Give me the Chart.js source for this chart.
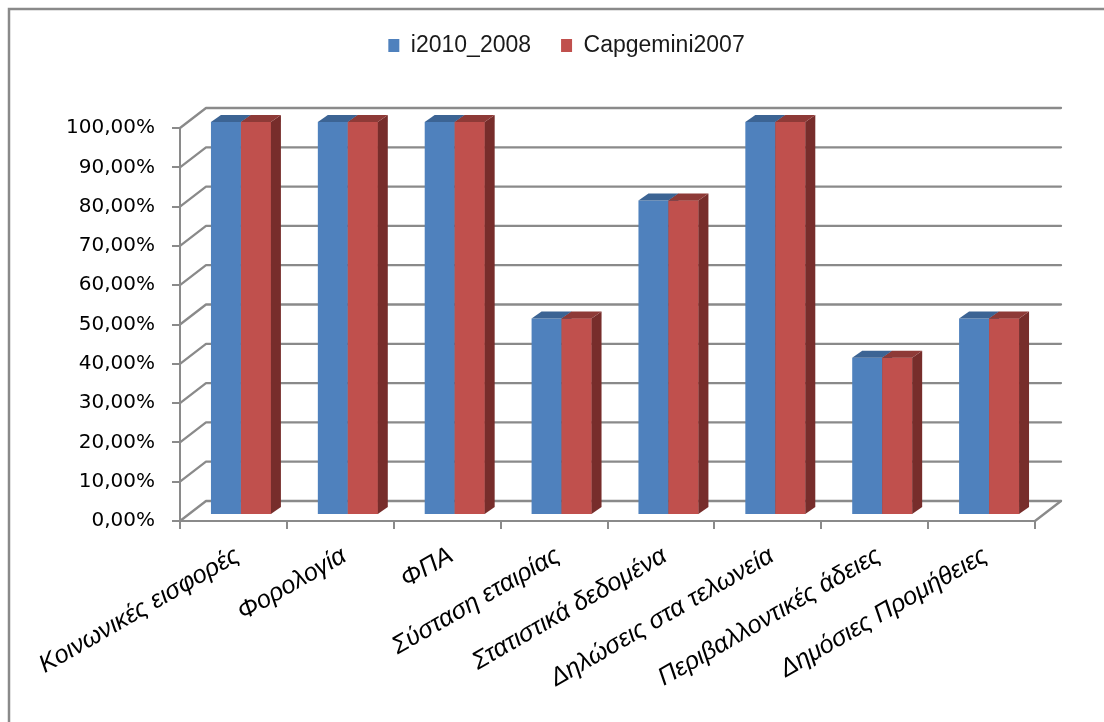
<!DOCTYPE html>
<html>
<head>
<meta charset="utf-8">
<script src="https://cdn.jsdelivr.net/npm/chart.js@4.4.1/dist/chart.umd.min.js"></script>
<style>
  html, body { margin: 0; padding: 0; background: #ffffff; }
  #wrap { width: 1104px; height: 722px; position: relative; }
</style>
</head>
<body>
<div id="wrap"><canvas id="chart" width="1104" height="722"></canvas></div>
<script>
// Categories (Greek e-government services) and the two survey series
const categories = [
  'Κοινωνικές εισφορές',
  'Φορολογία',
  'ΦΠΑ',
  'Σύσταση εταιρίας',
  'Στατιστικά δεδομένα',
  'Δηλώσεις στα τελωνεία',
  'Περιβαλλοντικές άδειες',
  'Δημόσιες Προμήθειες'
];
const seriesNames = ['i2010_2008', 'Capgemini2007'];
const i2010_2008 = [1.00, 1.00, 1.00, 0.50, 0.80, 1.00, 0.40, 0.50];
const capgemini2007 = [1.00, 1.00, 1.00, 0.50, 0.80, 1.00, 0.40, 0.50];
const yTickValues = [0, 0.1, 0.2, 0.3, 0.4, 0.5, 0.6, 0.7, 0.8, 0.9, 1.0];

// Colours for the front, top and side faces of the pseudo-3D columns
const faceColors = [
  { front: '#4F81BD', top: '#3C6494', side: '#2E4D73' },
  { front: '#C0504D', top: '#8E3A37', side: '#772D2B' }
];
const lineGray = '#8a8a8a';

// Pseudo-3D geometry: back wall offset, column shift and column depth
const WALL = { dx: 26, dy: -20 };
const SHIFT = { dx: 7.5, dy: -6 };
const DEPTH = { dx: 10, dy: -7 };

const fmtPct = v => (v * 100).toFixed(2).replace('.', ',') + '%';

// Outer frame of the chart object
const framePlugin = {
  id: 'frame',
  beforeDraw(chart) {
    const ctx = chart.ctx;
    ctx.save();
    ctx.fillStyle = '#ffffff';
    ctx.fillRect(0, 0, chart.width, chart.height);
    ctx.strokeStyle = '#8a8a8a';
    ctx.lineWidth = 2.5;
    ctx.strokeRect(9, 9, chart.width + 20, chart.height + 20);
    ctx.restore();
  }
};

// Back wall gridlines with the diagonal connectors to the front axis,
// then the columns shifted into the middle of the depth with their
// top and side faces painted back to front
const wallPlugin = {
  id: 'wall',
  beforeDatasetsDraw(chart) {
    const ctx = chart.ctx;
    const y = chart.scales.y;
    const a = chart.chartArea;
    ctx.save();
    ctx.strokeStyle = lineGray;
    ctx.lineWidth = 2.3;
    ctx.lineJoin = 'round';
    ctx.lineCap = 'round';
    yTickValues.forEach(v => {
      const py = y.getPixelForValue(v);
      ctx.beginPath();
      ctx.moveTo(a.left, py);
      ctx.lineTo(a.left + WALL.dx, py + WALL.dy);
      ctx.lineTo(a.right + WALL.dx, py + WALL.dy);
      ctx.stroke();
    });
    // floor edge at the right
    const p0 = y.getPixelForValue(0);
    ctx.beginPath();
    ctx.moveTo(a.right, p0);
    ctx.lineTo(a.right + WALL.dx, p0 + WALL.dy);
    ctx.stroke();
    ctx.restore();

    ctx.save();
    ctx.translate(SHIFT.dx, SHIFT.dy);
  },
  afterDatasetsDraw(chart) {
    const ctx = chart.ctx;
    const n = chart.data.datasets.length;
    for (let i = 0; i < n; i++) {
      const meta = chart.getDatasetMeta(i);
      const c = faceColors[i];
      meta.data.forEach(bar => {
        if (i > 0) bar.draw(ctx);
        const p = bar.getProps(['x', 'y', 'base', 'width'], true);
        const x0 = p.x - p.width / 2;
        const x1 = p.x + p.width / 2;
        const top = Math.min(p.y, p.base);
        const base = Math.max(p.y, p.base);
        // side face
        ctx.fillStyle = c.side;
        ctx.beginPath();
        ctx.moveTo(x1, top);
        ctx.lineTo(x1 + DEPTH.dx, top + DEPTH.dy);
        ctx.lineTo(x1 + DEPTH.dx, base + DEPTH.dy);
        ctx.lineTo(x1, base);
        ctx.closePath();
        ctx.fill();
        // top face
        ctx.fillStyle = c.top;
        ctx.beginPath();
        ctx.moveTo(x0, top);
        ctx.lineTo(x1, top);
        ctx.lineTo(x1 + DEPTH.dx, top + DEPTH.dy);
        ctx.lineTo(x0 + DEPTH.dx, top + DEPTH.dy);
        ctx.closePath();
        ctx.fill();
      });
    }
    ctx.restore();
  }
};

// Legend placement: extra room below the legend row, and the row
// centred a little right of the canvas middle
const LEGEND_GAP = 61;
const LEGEND_NUDGE = 49;
const legendPlacePlugin = {
  id: 'legendPlace',
  beforeInit(chart) {
    const lg = chart.legend;
    if (lg && !lg._gapWrapped) {
      const fit = lg.fit;
      lg.fit = function () {
        fit.call(this);
        this.height += LEGEND_GAP;
      };
      lg._gapWrapped = true;
    }
  },
  afterLayout(chart) {
    const lg = chart.legend;
    if (lg) {
      lg.left += LEGEND_NUDGE;
      lg.right += LEGEND_NUDGE;
    }
  }
};

Chart.defaults.font.family = "'DejaVu Sans', sans-serif";
Chart.defaults.color = '#000000';

new Chart(document.getElementById('chart'), {
  type: 'bar',
  data: {
    labels: categories,
    datasets: [
      { label: seriesNames[0], data: i2010_2008, backgroundColor: faceColors[0].front, borderWidth: 0, clip: false },
      { label: seriesNames[1], data: capgemini2007, backgroundColor: faceColors[1].front, borderWidth: 0, clip: false }
    ]
  },
  plugins: [framePlugin, legendPlacePlugin, wallPlugin],
  options: {
    responsive: false,
    animation: false,
    devicePixelRatio: 1,
    layout: { padding: { left: 0, right: 69, top: 4, bottom: 0 } },
    datasets: { bar: { categoryPercentage: 0.561, barPercentage: 1.0 } },
    plugins: {
      tooltip: { enabled: false },
      legend: {
        position: 'top',
        labels: {
          boxWidth: 11,
          boxHeight: 13,
          padding: 30,
          color: '#1a1a1a',
          font: { family: "'Liberation Sans', sans-serif", size: 23 }
        }
      }
    },
    scales: {
      x: {
        afterFit(scale) { scale.height = 201; },
        grid: { display: true, drawOnChartArea: false, offset: true, tickLength: 8, color: lineGray, lineWidth: 2 },
        border: { display: true, color: lineGray, width: 2 },
        ticks: {
          autoSkip: false,
          minRotation: 30,
          maxRotation: 30,
          padding: 12,
          labelOffset: 4,
          color: '#000000',
          font: { family: "'Liberation Sans', sans-serif", size: 25, style: 'italic' }
        }
      },
      y: {
        min: 0,
        max: 1,
        afterFit(scale) { scale.width = 180; },
        afterBuildTicks(scale) { scale.ticks = yTickValues.map(v => ({ value: v })); },
        grid: { display: true, drawOnChartArea: false, tickLength: 8, color: lineGray, lineWidth: 2 },
        border: { display: true, color: lineGray, width: 2 },
        ticks: {
          padding: 17,
          color: '#000000',
          font: { family: "'DejaVu Sans', sans-serif", size: 20 },
          callback: v => fmtPct(v)
        }
      }
    }
  }
});
</script>
</body>
</html>
